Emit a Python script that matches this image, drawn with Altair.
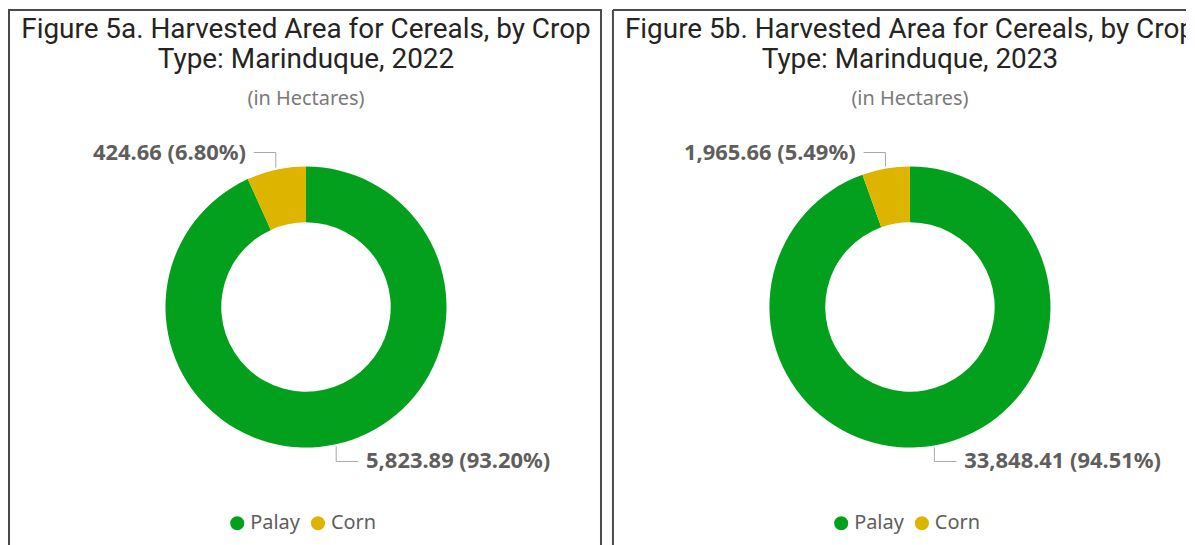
import math
import altair as alt
import pandas as pd

# ---- data ----
crops = ["Palay", "Corn"]
area_2022 = [5823.89, 424.66]
area_2023 = [33848.41, 1965.66]
colors = ["#03A01E", "#DDB400"]
titles_2022 = ["Figure 5a. Harvested Area for Cereals, by Crop", "Type: Marinduque, 2022"]
titles_2023 = ["Figure 5b. Harvested Area for Cereals, by Crop", "Type: Marinduque, 2023"]
subtitle = "(in Hectares)"

# ---- layout ----
H = 596
CX, CY = 298, 298
R_OUT, R_IN = 141, 85
BORDER = "#4A4A4A"
TEXT_GRAY = "#605E5C"


def panel(values, titles, width, own_border):
    total = sum(values)
    df = pd.DataFrame({"crop": crops, "value": values, "ord": list(range(len(crops)))})
    df["label"] = [f"{v:,.2f} ({v / total * 100:.2f}%)" for v in values]

    # leader lines and label positions derived from the slice angles
    rows, lab = [], []
    cum = 0.0
    for c, v, s in zip(crops, values, df["label"]):
        mid = (cum + v / 2) / total * 2 * math.pi
        cum += v
        sx, cy_ = math.sin(mid), math.cos(mid)
        sgx = 1 if sx >= 0 else -1
        sgy = 1 if cy_ >= 0 else -1
        x0 = CX + (R_OUT + 2) * sx
        y0 = CY - (R_OUT + 2) * cy_
        y1 = CY - sgy * (R_OUT + 14)
        x2 = x0 + sgx * 22
        rows += [
            {"crop": c, "i": 0, "px": x0, "py": y0},
            {"crop": c, "i": 1, "px": x0, "py": y1},
            {"crop": c, "i": 2, "px": x2, "py": y1},
        ]
        lab.append({"crop": c, "label": s, "px": x2 + sgx * 8, "py": y1,
                    "align": "left" if sgx > 0 else "right"})
    lines = pd.DataFrame(rows)
    labs = pd.DataFrame(lab)

    arc = alt.Chart(df).mark_arc(outerRadius=R_OUT, innerRadius=R_IN).encode(
        x=alt.value(CX),
        y=alt.value(CY),
        theta=alt.Theta("value:Q", stack=True),
        order=alt.Order("ord:Q"),
        color=alt.Color(
            "crop:N",
            scale=alt.Scale(domain=crops, range=colors),
            legend=alt.Legend(
                title=None, orient="none", legendX=219, legendY=505,
                direction="horizontal", symbolType="circle", symbolSize=200,
                symbolStrokeWidth=0, labelFontSize=20, labelFont="Noto Sans",
                labelColor=TEXT_GRAY, labelOffset=3, columnPadding=8,
            ),
        ),
    )

    leader = alt.Chart(lines).mark_line(color="#A8A8A8", strokeWidth=1).encode(
        x=alt.X("px:Q", scale=None, axis=None),
        y=alt.Y("py:Q", scale=None, axis=None),
        detail="crop:N",
        order="i:Q",
    )

    text_l = alt.Chart(labs[labs["align"] == "left"]).mark_text(
        align="left", baseline="middle", fontSize=22, fontWeight="bold",
        font="Noto Sans", color=TEXT_GRAY,
    ).encode(x=alt.X("px:Q", scale=None), y=alt.Y("py:Q", scale=None), text="label:N")
    text_r = alt.Chart(labs[labs["align"] == "right"]).mark_text(
        align="right", baseline="middle", fontSize=22, fontWeight="bold",
        font="Noto Sans", color=TEXT_GRAY,
    ).encode(x=alt.X("px:Q", scale=None), y=alt.Y("py:Q", scale=None), text="label:N")

    tdf = pd.DataFrame({"t": titles, "ty": [28 + 30 * i for i in range(len(titles))]})
    title = alt.Chart(tdf).mark_text(
        align="center", baseline="alphabetic", fontSize=28, font="Roboto",
        color="#252423", clip=True,
    ).encode(x=alt.value(CX), y=alt.Y("ty:Q", scale=None), text="t:N")

    sdf = pd.DataFrame({"t": [subtitle]})
    sub = alt.Chart(sdf).mark_text(
        align="center", baseline="alphabetic", fontSize=20, font="Noto Sans", color="#7A7A7A",
    ).encode(x=alt.value(CX), y=alt.value(95), text="t:N")

    layers = [arc, leader, text_l, text_r, title, sub]
    props = dict(width=width, height=H)
    if not own_border:
        # frame continues past the window on the right and bottom: draw left and top edges
        edge_l = alt.Chart(sdf).mark_rule(color=BORDER, strokeWidth=2).encode(
            x=alt.value(0), y=alt.value(0), y2=alt.value(H))
        edge_t = alt.Chart(sdf).mark_rule(color=BORDER, strokeWidth=2).encode(
            x=alt.value(0), x2=alt.value(width), y=alt.value(0))
        layers += [edge_l, edge_t]
        props["view"] = alt.ViewBackground(stroke=None)
    return alt.layer(*layers).properties(**props)


left = panel(area_2022, titles_2022, 594, True)
right = panel(area_2023, titles_2023, 575, False)

chart = (
    alt.hconcat(left, right, spacing=10)
    .resolve_scale(color="independent")
    .resolve_legend(color="independent")
    .properties(padding=0)
    .configure_view(stroke=BORDER, strokeWidth=2)
)

chart.save("out.html", embed_options={"renderer": "svg", "actions": False})
